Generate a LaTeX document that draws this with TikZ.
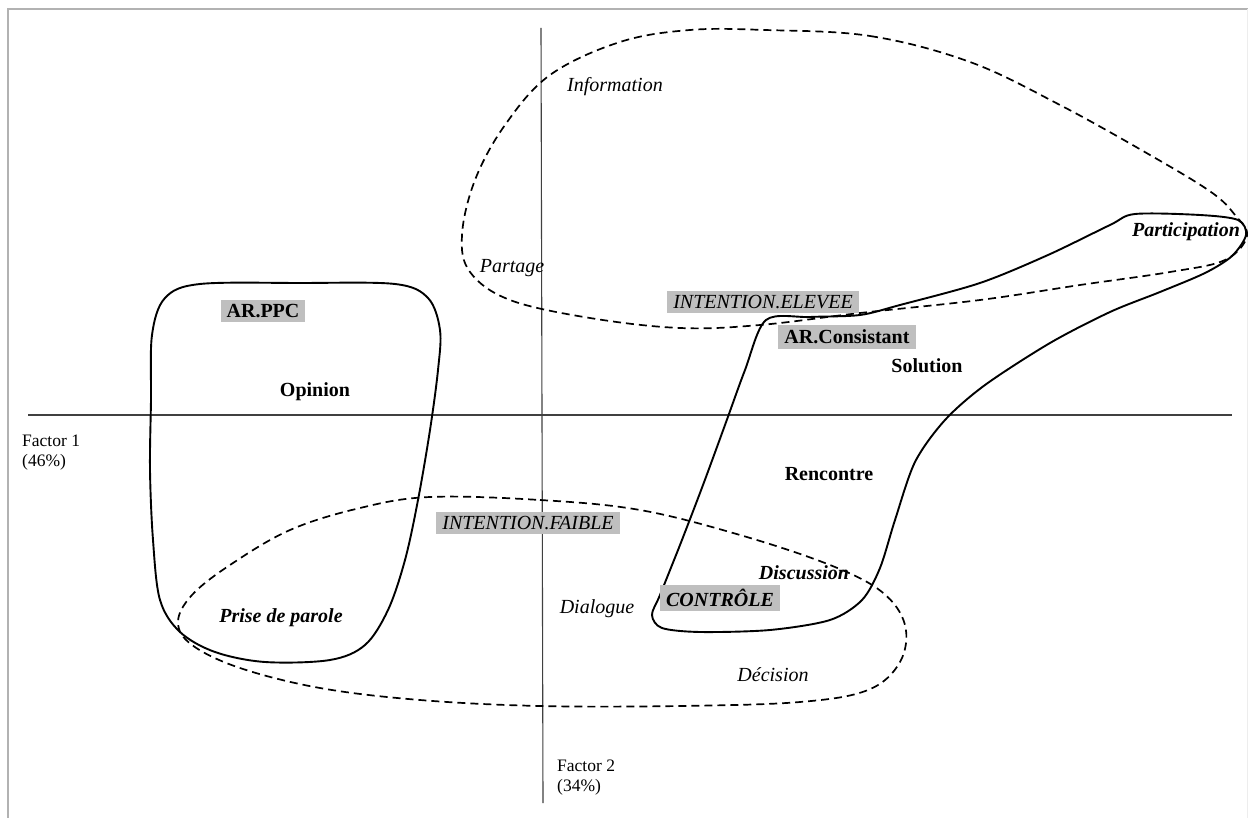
\documentclass[tikz,border=0pt]{standalone}
\usepackage{fontspec}
\setmainfont{Liberation Serif}
\begin{document}
\begin{tikzpicture}[x=1pt,y=-1pt,
  axis/.style={draw=black!75, line width=1.1pt},
  frameline/.style={draw=black!30, line width=1.3pt},
  faintline/.style={draw=black!7, line width=1pt},
  solidloop/.style={draw=black, line width=1.9pt},
  dashloop/.style={draw=black, line width=1.7pt, dash pattern=on 8pt off 5pt},
  lbl/.style={font=\fontsize{20}{22}\selectfont, inner sep=0pt, text=black},
  it/.style={lbl, font=\fontsize{20}{22}\selectfont\itshape},
  bf/.style={lbl, font=\fontsize{20}{22}\selectfont\bfseries},
  bfit/.style={lbl, font=\fontsize{20}{22}\selectfont\bfseries\itshape},
  greybox/.style={fill=black!25, inner xsep=6pt, inner ysep=4.5pt},
  axlbl/.style={font=\fontsize{17.5}{19.5}\selectfont, inner sep=0pt, align=left, anchor=north west, text=black}]
\useasboundingbox (0,0) rectangle (1248,818);
\fill[white] (0,0) rectangle (1248,818);
% frame
\coordinate (fTL) at (8,9);
\coordinate (fTR) at (1248,9);
\coordinate (fBL) at (8,818);
\coordinate (fRT) at (1247,9);
\coordinate (fRB) at (1247,818);
\draw[frameline] (fBL) -- (fTL) -- (fTR);
\draw[faintline] (fRT) -- (fRB);
% axes
\coordinate (hL) at (28,415);
\coordinate (hR) at (1232,415);
\coordinate (vT) at (541,28);
\coordinate (vB) at (543,803);
\draw[axis] (hL) -- (hR);
\draw[axis] (vT) -- (vB);
% dashed loop A (top)
\draw[dashloop] plot[smooth cycle, tension=0.6] coordinates {
 (765,30) (870,36) (970,62) (1060,105) (1150,155) (1211,192) (1235,215)
 (1247,236) (1225,260) (1170,272) (1080,285) (980,300) (860,313) (760,325)
 (680,328) (590,318) (510,300) (470,272) (462,235) (475,180) (505,125)
 (550,75) (620,42) (690,30)};
% dashed loop B (bottom)
\draw[dashloop] plot[smooth cycle, tension=0.6] coordinates {
 (430,497) (540,500) (640,510) (740,535) (830,565) (882,592) (905,625)
 (900,662) (868,690) (800,702) (680,706) (540,706) (420,700) (320,688)
 (240,668) (192,645) (178,622) (192,595) (230,565) (290,530) (360,508)};
% left solid loop
\draw[solidloop] plot[smooth cycle, tension=0.55] coordinates {
 (200,284) (300,283) (395,284) (428,298) (440,330) (438,370) (430,430)
 (418,500) (405,560) (388,610) (365,645) (330,660) (265,662) (215,652)
 (180,632) (160,600) (153,540) (150,470) (151,400) (152,335) (165,298)};
% right solid loop
\draw[solidloop] plot[smooth cycle, tension=0.5] coordinates {
 (766,320) (745,370) (725,425) (703,485) (680,545) (660,595) (652,615)
 (662,628) (700,632) (770,630) (830,620) (862,600) (880,568) (895,520)
 (915,462) (945,420) (985,385) (1050,343) (1110,312) (1160,292) (1205,273)
 (1232,256) (1246,235) (1238,220) (1200,215) (1135,214) (1110,225)
 (1048,255) (980,283) (900,305) (860,315) (810,317)};
% labels
\node[it] (info) at (615,87) {Information};
\node[it] (partage) at (512,268) {Partage};
\node[bfit] (particip) at (1186,232) {Participation};
\node[it, greybox] (ielev) at (763,302) {INTENTION.ELEVEE};
\node[bf, greybox] (arcons) at (847,337) {AR.Consistant};
\node[bf] (solution) at (927,366) {Solution};
\node[bf, greybox] (arppc) at (263,311) {AR.PPC};
\node[bf] (opinion) at (315,392) {Opinion};
\node[it, greybox] (ifaib) at (528,523) {INTENTION.FAIBLE};
\node[bf] (rencontre) at (829,474) {Rencontre};
\node[bfit] (discussion) at (804,573) {Discussion};
\node[bfit, greybox] (controle) at (720,598) {CONTRÔLE};
\node[it] (dialogue) at (597,609) {Dialogue};
\node[bfit] (prise) at (281,618) {Prise de parole};
\node[it] (decision) at (773,675) {Décision};
\node[axlbl] (f1) at (22,435) {Factor 1\\(46\%)};
\node[axlbl] (f2) at (557,760) {Factor 2\\(34\%)};
\end{tikzpicture}
\end{document}
